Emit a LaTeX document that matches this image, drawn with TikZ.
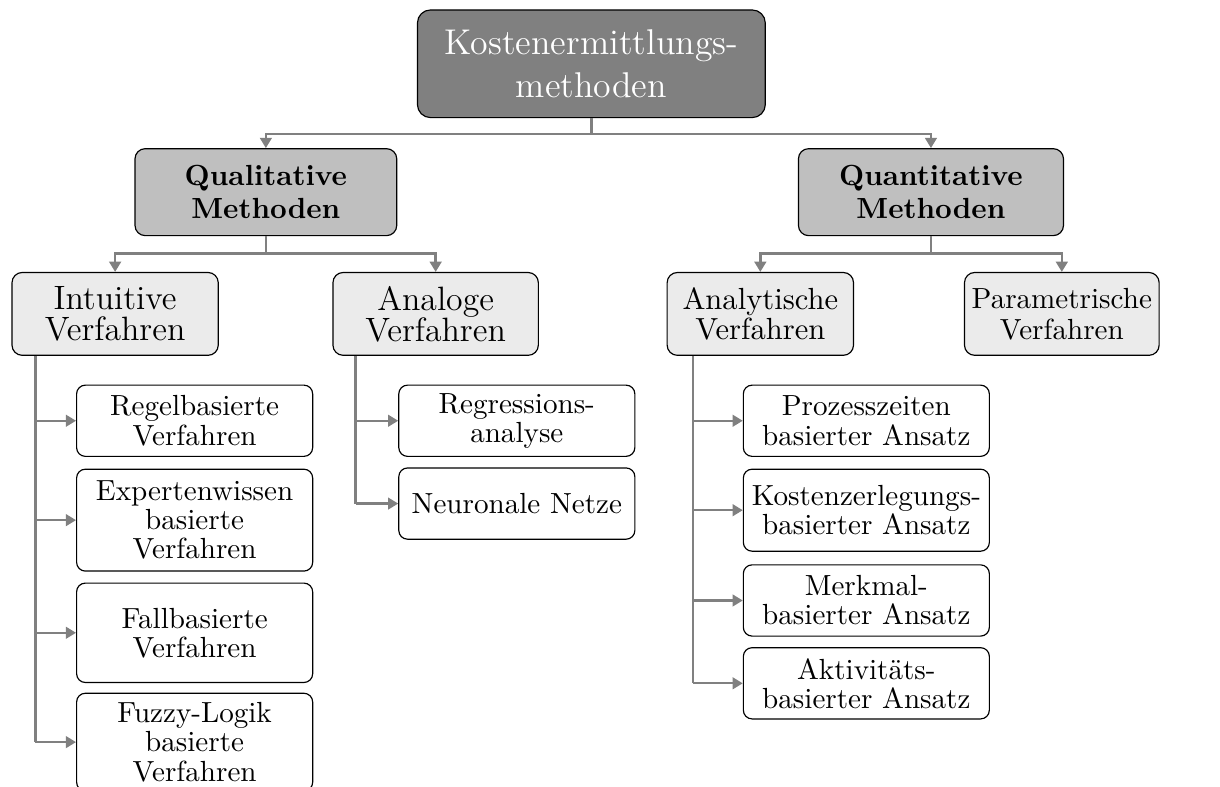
\documentclass[tikz,border=0pt]{standalone}
\usepackage{tikz}
\usetikzlibrary{arrows.meta, positioning, calc}
\usepackage{xcolor}
\definecolor{darkfill}{HTML}{808080}
\definecolor{midfill}{HTML}{BFBFBF}
\definecolor{lightfill}{HTML}{EBEBEB}

\begin{document}
\begin{tikzpicture}[
  topblock/.style={rectangle, rounded corners=4.5pt, draw, fill=darkfill, text=white,
                   minimum width=4.2cm, minimum height=1.3cm, align=center,
                   font=\fontsize{12.3}{15}\selectfont},
  catblock/.style={rectangle, rounded corners=3.5pt, draw, fill=midfill,
                   minimum height=1.05cm, align=center,
                   font=\fontsize{10}{11.4}\selectfont\bfseries},
  subblock/.style={rectangle, rounded corners=3.5pt, draw, fill=lightfill,
                   minimum height=1.0cm, align=center, inner sep=2pt,
                   font=\fontsize{11.6}{10.6}\selectfont},
  leaf/.style={rectangle, rounded corners=3pt, draw, minimum height=0.86cm,
               align=center, inner sep=2pt, font=\fontsize{10}{10}\selectfont},
  wire/.style={draw=gray, line width=0.8pt},
  arrow/.style={wire, -{Triangle[length=3.5pt, width=4pt]}},
]
  \useasboundingbox (0,0) rectangle (14.73,-9.50);

  % Root
  \node[topblock] (root) at (7.14,-0.77) {Kostenermittlungs-\\methoden};

  % Method classes
  \node[catblock, minimum width=3.16cm] (qual)  at (3.21,-2.32)  {Qualitative\\Methoden};
  \node[catblock, minimum width=3.20cm] (quant) at (11.24,-2.32) {Quantitative\\Methoden};

  % Procedures
  \node[subblock, minimum width=2.49cm] (intu)   at (1.39,-3.79)  {Intuitive\\Verfahren};
  \node[subblock, minimum width=2.48cm] (anal)   at (5.26,-3.79)  {Analoge\\Verfahren};
  \node[subblock, minimum width=2.25cm, font=\fontsize{10.5}{10.6}\selectfont]
       (analyt) at (9.18,-3.79)  {Analytische\\Verfahren};
  \node[subblock, minimum width=2.35cm, font=\fontsize{10}{10.6}\selectfont]
       (param)  at (12.82,-3.79) {Parametrische\\Verfahren};

  % Intuitive
  \node[leaf, minimum width=2.85cm] (regel) at (2.35,-5.08) {Regelbasierte\\Verfahren};
  \node[leaf, minimum width=2.85cm, minimum height=1.23cm] (expert) at (2.35,-6.28) {Expertenwissen\\basierte\\Verfahren};
  \node[leaf, minimum width=2.85cm, minimum height=1.20cm] (fall)   at (2.35,-7.64) {Fallbasierte\\Verfahren};
  \node[leaf, minimum width=2.85cm, minimum height=1.18cm] (fuzzy)  at (2.35,-8.96) {Fuzzy-Logik\\basierte\\Verfahren};

  % Analoge
  \node[leaf, minimum width=2.85cm] (regr)  at (6.24,-5.08) {Regressions-\\analyse};
  \node[leaf, minimum width=2.85cm] (neuro) at (6.24,-6.08) {Neuronale Netze};

  % Analytische
  \node[leaf, minimum width=2.97cm] (prozess) at (10.46,-5.08) {Prozesszeiten\\basierter Ansatz};
  \node[leaf, minimum width=2.97cm, minimum height=0.99cm] (kosten) at (10.46,-6.16) {Kostenzerlegungs-\\basierter Ansatz};
  \node[leaf, minimum width=2.97cm] (merkmal) at (10.46,-7.25) {Merkmal-\\basierter Ansatz};
  \node[leaf, minimum width=2.97cm] (aktiv)   at (10.46,-8.25) {Aktivitäts-\\basierter Ansatz};

  % Tree arrows
  \coordinate (rootfork)  at ([yshift=-0.19cm]root.south);
  \coordinate (qualfork)  at ([yshift=-0.21cm]qual.south);
  \coordinate (quantfork) at ([yshift=-0.21cm]quant.south);
  \draw[wire] (root.south) -- (rootfork);
  \draw[wire] (qual.south) -- (qualfork);
  \draw[wire] (quant.south) -- (quantfork);
  \draw[arrow] (rootfork) -| (qual.north);
  \draw[arrow] (rootfork) -| (quant.north);
  \draw[arrow] (qualfork) -| (intu.north);
  \draw[arrow] (qualfork) -| (anal.north);
  \draw[arrow] (quantfork) -| (analyt.north);
  \draw[arrow] (quantfork) -| (param.north);

  % Side branches
  \coordinate (intutrunk)   at ([xshift=0.29cm]intu.south west);
  \coordinate (analtrunk)   at ([xshift=0.28cm]anal.south west);
  \coordinate (analyttrunk) at ([xshift=0.32cm]analyt.south west);
  \draw[wire] (intutrunk) -- (intutrunk |- fuzzy.west);
  \draw[wire] (analtrunk) -- (analtrunk |- neuro.west);
  \draw[wire] (analyttrunk) -- (analyttrunk |- aktiv.west);
  \foreach \leafnode in {regel, expert, fall, fuzzy}
    \draw[arrow] (intutrunk |- \leafnode.west) -- (\leafnode.west);
  \foreach \leafnode in {regr, neuro}
    \draw[arrow] (analtrunk |- \leafnode.west) -- (\leafnode.west);
  \foreach \leafnode in {prozess, kosten, merkmal, aktiv}
    \draw[arrow] (analyttrunk |- \leafnode.west) -- (\leafnode.west);
\end{tikzpicture}
\end{document}
